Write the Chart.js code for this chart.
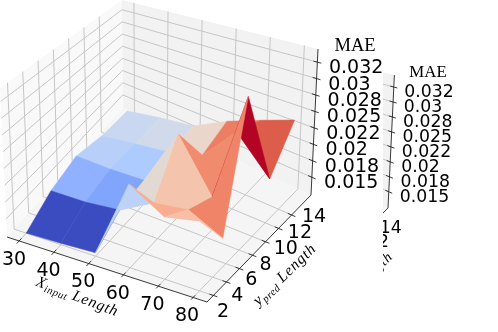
<!DOCTYPE html><html><body style="margin:0;background:#fff">
<canvas id="c" width="498" height="332" style="display:block"></canvas>
<script src="https://cdn.jsdelivr.net/npm/chart.js@4"></script>
<script>
const xs=[30,40,50,60,70,80],ys=[2,5.5,9,12.5,16];
const zGrid=[
[.0123,.0125,.0128,.0241,.0209,.0217],
[.0146,.0147,.0153,.0181,.0187,.0163],
[.0159,.0158,.0160,.0250,.0172,.0334],
[.0147,.0157,.0165,.0181,.0236,.0183],
[.0143,.0157,.0167,.0198,.0220,.0239]];
const xTicks=[30,40,50,60,70,80],yTicks=[2,4,6,8,10,12,14];
const zTicks=[.015,.0175,.02,.0225,.025,.0275,.03,.0325];
const zTickLabels=['0.015','0.018','0.02','0.022','0.025','0.028','0.03','0.032'];
const cellColors=[
['#3B4CC0','#3B4CC0','#BCD2F7','#F9AD90','#F6BFA6'],
['#8FB1FF','#80A5FB','#E3D9D3','#F5C4AC','#EF8468'],
['#B7CFF9','#AECBFF','#E3D9D3','#F08B6E','#B40426'],
['#C9D7F0','#D0DAEA','#EBD6CB','#EC7F63','#DC5D4A']];
const xl=[26.5,84],yl=[1.02,16.98],zl=[.0123,.0345];
const BOX={f00:[7,237],f10:[207,302],f11:[311,195],f01:[123,108],t00:[0,88],t10:[207,135],t11:[318,49],t01:[122,0]};
const mix=(a,b,t)=>[a[0]+(b[0]-a[0])*t,a[1]+(b[1]-a[1])*t];
function bil(u,v,k){return mix(mix(BOX[k+'00'],BOX[k+'10'],u),mix(BOX[k+'01'],BOX[k+'11'],u),v);}
function proj(x,y,z){const u=(x-xl[0])/(xl[1]-xl[0]),v=(y-yl[0])/(yl[1]-yl[0]),w=(z-zl[0])/(zl[1]-zl[0]);const p=mix(bil(u,v,'f'),bil(u,v,'t'),w);return {x:p[0],y:p[1]};}
const FIG2={s:.91,tx:105,ty:30.5,clip:383};
const fig=(p,f)=>f?{x:f.s*p.x+f.tx,y:f.s*p.y+f.ty}:p;
const ds=[];
function poly(pts,color,f,seal){ds.push({data:pts.map(p=>fig(p,f)),poly:color,seal,fig2:f,showLine:false,pointRadius:0});}
function line(pts,color,w,f){ds.push({data:pts.map(p=>fig(p,f)),borderColor:color,borderWidth:w,fig2:f,showLine:true,pointRadius:0,fill:false,tension:0});}
function axes(f){
 const [x0,x1]=xl,[y0,y1]=yl,[z0,z1]=zl;
 poly([proj(x0,y0,z0),proj(x0,y1,z0),proj(x0,y1,z1),proj(x0,y0,z1)],'#F9F9F9',f);
 poly([proj(x0,y1,z0),proj(x1,y1,z0),proj(x1,y1,z1),proj(x0,y1,z1)],'#F2F2F2',f);
 poly([proj(x0,y0,z0),proj(x1,y0,z0),proj(x1,y1,z0),proj(x0,y1,z0)],'#F5F5F5',f);
 const G='#c6c6c6';
 xTicks.forEach(t=>line([proj(t,y0,z0),proj(t,y1,z0),proj(t,y1,z1)],G,1,f));
 yTicks.forEach(t=>line([proj(x1,t,z0),proj(x0,t,z0),proj(x0,t,z1)],G,1,f));
 zTicks.forEach(t=>line([proj(x0,y0,t),proj(x0,y1,t),proj(x1,y1,t)],G,1,f));
}
function axisLines(f){
 const [x0,x1]=xl,[y0,y1]=yl,[z0,z1]=zl,K='#222';
 line([proj(x0,y0,z0),proj(x1,y0,z0)],K,.9,f);
 line([proj(x1,y0,z0),proj(x1,y1,z0)],K,.9,f);
 line([proj(x1,y1,z0),proj(x1,y1,z1)],K,.9,f);
 const dy=(y1-y0)*.02,dx=(x1-x0)*.02;
 xTicks.forEach(t=>line([proj(t,y0+dy,z0),proj(t,y0-dy,z0)],K,.9,f));
 yTicks.forEach(t=>line([proj(x1-dx,t,z0),proj(x1+dx,t,z0)],K,.9,f));
 zTicks.forEach(t=>line([proj(x1-dx,y1,t),proj(x1+dx,y1,t)],K,.9,f));
}
axes(FIG2);axisLines(FIG2);
axes(null);
axisLines(null);
const cells=[];
for(let j=0;j<ys.length-1;j++)for(let i=0;i<xs.length-1;i++){
 const c=[[i,j],[i+1,j],[i+1,j+1],[i,j+1]].map(([a,b])=>[xs[a],ys[b],zGrid[b][a]]);
 cells.push({c,far:j*10+(xs.length-i),col:cellColors[j][i]});
}
cells.sort((a,b)=>b.far-a.far).forEach(k=>poly(k.c.map(p=>proj(p[0],p[1],p[2])),k.col,null,true));
ds.forEach((d,i)=>d.order=-i);
function mathLabel(ctx,cx,cy,deg,runs){
 ctx.save();ctx.translate(cx,cy);ctx.rotate(deg*Math.PI/180);ctx.textBaseline='alphabetic';ctx.textAlign='left';
 let w=0;runs.forEach(r=>{ctx.font=`italic ${r[1]}px "Liberation Serif"`;ctx.letterSpacing=r[3]+'px';r.w=ctx.measureText(r[0]).width;w+=r.w;});
 let x=-w/2;runs.forEach(r=>{ctx.font=`italic ${r[1]}px "Liberation Serif"`;ctx.letterSpacing=r[3]+'px';ctx.fillText(r[0],x,4+r[2]);x+=r.w;});
 ctx.letterSpacing='0px';ctx.restore();
}
function drawText(ctx){
 ctx.fillStyle='#000';ctx.textAlign='left';ctx.textBaseline='middle';
 ctx.font='19px "DejaVu Sans"';
 xTicks.forEach(t=>{ctx.textAlign='center';ctx.fillText(String(t),14+(t-30)*3.46,260+(t-30)*1.12);});
 ctx.textAlign='left';
 yTicks.forEach(t=>ctx.fillText(String(t),217+(t-2)*7.08,312-(t-2)*7.9));
 zTicks.forEach((t,i)=>ctx.fillText(zTickLabels[i],324+i*.71,183-i*16.4));
 ctx.font='18.5px "Liberation Serif"';ctx.textAlign='center';ctx.fillText('MAE',355,46);
 mathLabel(ctx,77,297,21,[['X',15.5,0,.5],['input',10.5,3,.6],[' Length',15.5,0,.8]]);
 mathLabel(ctx,285,275,-44,[['y',15.5,0,.5],['pred',10.5,3,.6],[' Length',15.5,0,.8]]);
}
const plugin={id:'surf',
 beforeDatasetsDraw(ch){const c=ch.ctx;c.save();c.beginPath();c.rect(FIG2.clip,0,498,332);c.clip();c.translate(FIG2.tx,FIG2.ty);c.scale(FIG2.s,FIG2.s);drawText(c);c.restore();},
 beforeDatasetDraw(ch,a){const d=ch.data.datasets[a.index],c=ch.ctx;c.save();if(d.fig2){c.beginPath();c.rect(FIG2.clip,0,498,332);c.clip();}
  if(d.poly){const m=a.meta.data;c.beginPath();m.forEach((p,i)=>i?c.lineTo(p.x,p.y):c.moveTo(p.x,p.y));c.closePath();c.fillStyle=d.poly;c.fill();if(d.seal){c.strokeStyle=d.poly;c.lineWidth=.5;c.stroke();}}},
 afterDatasetDraw(ch){ch.ctx.restore();},
 afterDatasetsDraw(ch){drawText(ch.ctx);}
};
new Chart(document.getElementById('c'),{type:'scatter',data:{datasets:ds},plugins:[plugin],options:{responsive:false,animation:false,events:[],layout:{padding:0},plugins:{legend:{display:false},tooltip:{enabled:false}},scales:{x:{type:'linear',display:false,min:0,max:498},y:{type:'linear',display:false,min:0,max:332,reverse:true}}}});
</script></body></html>
